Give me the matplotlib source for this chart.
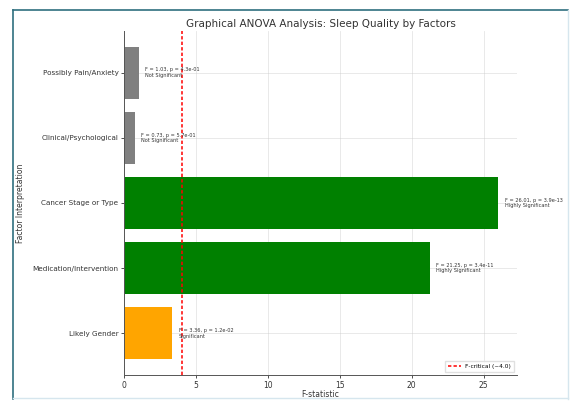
import matplotlib
matplotlib.use("Agg")
import matplotlib.pyplot as plt
from matplotlib.lines import Line2D

# ANOVA results per factor (bottom to top)
factors = ["Likely Gender", "Medication/Intervention", "Cancer Stage or Type",
           "Clinical/Psychological", "Possibly Pain/Anxiety"]
f_values = [3.36, 21.25, 26.01, 0.73, 1.03]
p_labels = ["1.2e-02", "3.4e-11", "3.9e-13", "5.7e-01", "4.3e-01"]
significance = ["Significant", "Highly Significant", "Highly Significant",
                "Not Significant", "Not Significant"]
bar_colors = ["orange", "green", "green", "gray", "gray"]
f_critical = 4.0
x_ticks = [0, 5, 10, 15, 20, 25]

fig = plt.figure(figsize=(5.72, 4.01), dpi=100)
fig.patch.set_facecolor("white")

ax = fig.add_axes([124 / 572, 26 / 401, 393 / 572, 344 / 401])
ypos = list(range(len(factors)))
ax.barh(ypos, f_values, color=bar_colors, height=0.8, zorder=2)
ax.axvline(f_critical, color="red", linestyle=(0, (2.2, 1.4)), linewidth=1.1,
           zorder=3)

for y, f, p, s in zip(ypos, f_values, p_labels, significance):
    ax.text(f + 0.45, y, f"F = {f:.2f}, p = {p}\n{s}", va="center", ha="left",
            fontsize=3.6, color="#333333", linespacing=1.1, clip_on=False,
            zorder=4)

ax.set_yticks(ypos)
ax.set_yticklabels(factors, fontsize=5.2, color="#333333")
ax.set_xticks(x_ticks)
ax.tick_params(axis="x", labelsize=5.5, colors="#333333", length=2.5,
               width=0.6, pad=1.5)
ax.tick_params(axis="y", length=2.5, width=0.6, colors="#333333", pad=1.5)
ax.set_xlim(0, 27.31)
ax.set_ylim(-0.64, 4.64)
ax.grid(True, color="#cccccc", alpha=0.5, linewidth=0.6, zorder=0)
ax.set_axisbelow(True)
for side in ("top", "right"):
    ax.spines[side].set_visible(False)
for side in ("left", "bottom"):
    ax.spines[side].set_color("#555555")
    ax.spines[side].set_linewidth(0.7)

ax.set_title("Graphical ANOVA Analysis: Sleep Quality by Factors",
             fontsize=7.5, color="#333333", pad=3)
ax.set_xlabel("F-statistic", fontsize=5.5, color="#333333", labelpad=0)
ax.set_ylabel("Factor Interpretation", fontsize=5.5, color="#333333",
              labelpad=5)

handle = Line2D([], [], color="red", linestyle=(0, (2.2, 1.4)), linewidth=1.1)
ax.legend([handle], [f"F-critical (~{f_critical:.1f})"], loc="lower right",
          fontsize=4.2, frameon=True, handlelength=2.2, borderpad=0.5,
          framealpha=0.9, edgecolor="#dddddd", fancybox=False)

# Frame around the figure
W, H = 572, 401
fig.add_artist(Line2D([13 / W, 568 / W], [1 - 10 / H, 1 - 10 / H],
                      transform=fig.transFigure, color="#2f6f7f", linewidth=1.2))
fig.add_artist(Line2D([13 / W, 13 / W], [1 - 10 / H, 1 - 399 / H],
                      transform=fig.transFigure, color="#2f6f7f", linewidth=1.2))
fig.add_artist(Line2D([568 / W, 568 / W], [1 - 10 / H, 1 - 399 / H],
                      transform=fig.transFigure, color="#d6e6ee", linewidth=1.0))
fig.add_artist(Line2D([13 / W, 568 / W], [1 - 398 / H, 1 - 398 / H],
                      transform=fig.transFigure, color="#d6e6ee", linewidth=1.0))

fig.savefig("out.png", dpi=100, facecolor="white")
